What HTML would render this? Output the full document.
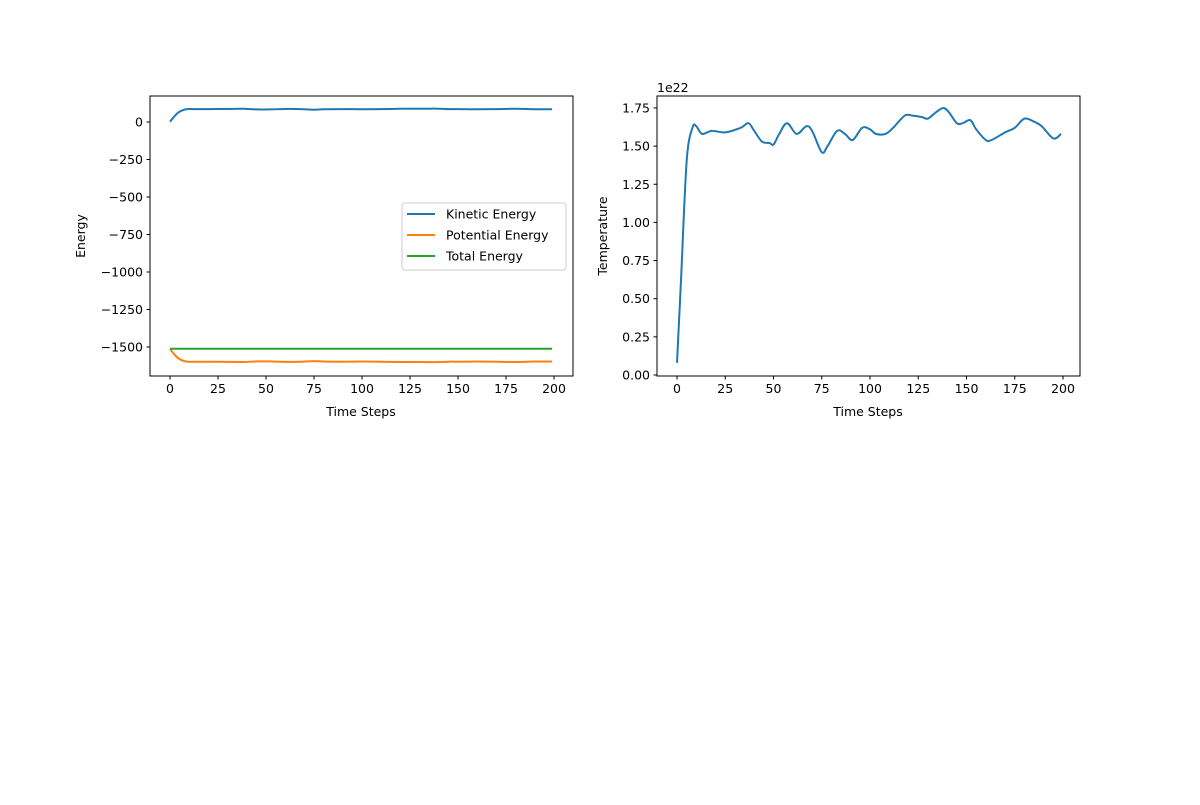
<!DOCTYPE html>
<html><head><meta charset="utf-8"><style>
body{margin:0;background:#fff;font-family:"Liberation Sans","DejaVu Sans",sans-serif}
svg text{font-family:"DejaVu Sans","Liberation Sans",sans-serif;font-size:12.5px;fill:#000}
</style></head><body>
<svg id="c" width="1200" height="800"></svg>
<script>
const steps=[0,2,5,8,10,13,18,25,33,37,40,44,48,50,53,57,62,67,70,75,78,83,87,91,96,100,103,108,112,118,122,127,130,134,138,141,145,148,152,155,160,163,170,175,180,185,189,195,199];
const temperature=[0.08,0.6,1.4,1.62,1.63,1.58,1.6,1.59,1.62,1.65,1.6,1.53,1.52,1.51,1.58,1.65,1.58,1.63,1.6,1.46,1.5,1.6,1.58,1.54,1.62,1.61,1.58,1.58,1.62,1.7,1.7,1.69,1.68,1.72,1.75,1.72,1.65,1.65,1.67,1.61,1.54,1.54,1.59,1.62,1.68,1.66,1.63,1.55,1.58];
const eSteps=[0,4,8,12,20,30,38,45,52,60,68,75,80,90,100,110,120,130,138,145,150,160,170,180,190,199];
const kinetic=[2,60,84,86,86,87,88,84,84,87,86,82,85,86,85,86,88,88,89,86,86,85,86,88,85,85];
const totalEnergy=-1512;
const potential=kinetic.map(k=>totalEnergy-k);
const total=eSteps.map(()=>totalEnergy);
const xTicks=[0,25,50,75,100,125,150,175,200];
const eTicks=[0,-250,-500,-750,-1000,-1250,-1500];
const tTicks=[0,0.25,0.5,0.75,1,1.25,1.5,1.75];
const tLabels=["0.00","0.25","0.50","0.75","1.00","1.25","1.50","1.75"];
const S=document.getElementById('c');const NS='http://www.w3.org/2000/svg';
function el(t,a,txt){const e=document.createElementNS(NS,t);for(const k in a)e.setAttribute(k,a[k]);if(txt!==undefined)e.textContent=txt;S.appendChild(e);return e;}
function smooth(pts){let d='M'+pts[0][0]+','+pts[0][1];for(let i=0;i<pts.length-1;i++){const p0=pts[i-1]||pts[i],p1=pts[i],p2=pts[i+1],p3=pts[i+2]||p2;d+=` C${p1[0]+(p2[0]-p0[0])/6},${p1[1]+(p2[1]-p0[1])/6} ${p2[0]-(p3[0]-p1[0])/6},${p2[1]-(p3[1]-p1[1])/6} ${p2[0]},${p2[1]}`;}return d;}
// left axes
const lx=v=>170+v*1.92, ly=v=>122-v*0.15;
const rx=v=>677+v*1.93, ry=v=>375-v*152.6;
function axes(x0,x1,name){const f=el('rect',{x:x0,y:96,width:x1-x0,height:280,fill:'none',stroke:'#000','stroke-width':1});}
function xt(fx,name){xTicks.forEach(v=>{const x=fx(v);el('line',{x1:x,x2:x,y1:376,y2:379.5,stroke:'#000'});const t=el('text',{x:x,y:393,'text-anchor':'middle'},v);});}
axes(150,573,'energy-axes');axes(657,1080,'temperature-axes');
xt(lx,'energy');xt(rx,'temperature');
eTicks.forEach(v=>{const y=ly(v);el('line',{x1:146.5,x2:150,y1:y,y2:y,stroke:'#000'});const t=el('text',{x:143,y:y+4.5,'text-anchor':'end'},v<0?'\u2212'+(-v):v);});
tTicks.forEach((v,i)=>{const y=ry(v);el('line',{x1:653.5,x2:657,y1:y,y2:y,stroke:'#000'});const t=el('text',{x:650,y:y+4.5,'text-anchor':'end'},tLabels[i]);});
let t;
t=el('text',{x:361,y:416,'text-anchor':'middle'},'Time Steps');
t=el('text',{x:868,y:416,'text-anchor':'middle'},'Time Steps');
t=el('text',{x:85,y:236,'text-anchor':'middle',transform:'rotate(-90 85 236)'},'Energy');
t=el('text',{x:607,y:236,'text-anchor':'middle',transform:'rotate(-90 607 236)'},'Temperature');
t=el('text',{x:657,y:92},'1e22');
function line(xs,ys,fx,fy,c,name){const p=el('path',{d:smooth(xs.map((x,i)=>[fx(x),fy(ys[i])])),fill:'none',stroke:c,'stroke-width':2});}
line(eSteps,kinetic,lx,ly,'#1f77b4','kinetic-energy-line');
line(eSteps,potential,lx,ly,'#ff7f0e','potential-energy-line');
line(eSteps,total,lx,ly,'#2ca02c','total-energy-line');
line(steps,temperature,rx,ry,'#1f77b4','temperature-line');
// legend
const lg=el('rect',{x:402,y:203,width:164,height:67,fill:'#fff',stroke:'#ccc',rx:3});
[['Kinetic Energy','#1f77b4'],['Potential Energy','#ff7f0e'],['Total Energy','#2ca02c']].forEach((e,i)=>{const y=214+i*21;el('line',{x1:407,x2:435,y1:y,y2:y,stroke:e[1],'stroke-width':2});const tt=el('text',{x:446,y:y+4.5},e[0]);});
</script></body></html>
